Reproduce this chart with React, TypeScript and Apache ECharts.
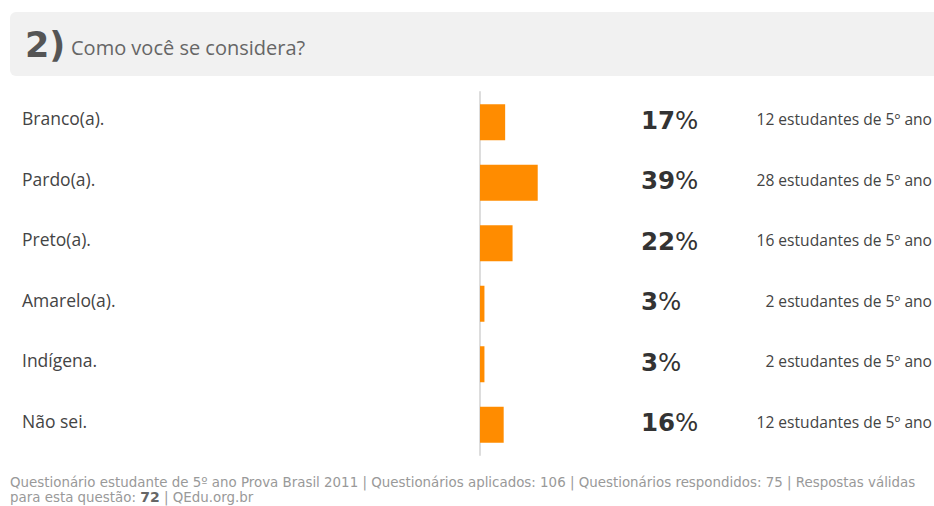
import React, { useEffect, useRef } from "react";
import * as echarts from "echarts";

const categories = ["Branco(a).", "Pardo(a).", "Preto(a).", "Amarelo(a).", "Indígena.", "Não sei."];
const percents = [17, 39, 22, 3, 3, 16];
const counts = [12, 28, 16, 2, 2, 12];
const questionNumber = "2)";
const questionText = "Como você se considera?";
const footerLine1 = "Questionário estudante de 5º ano Prova Brasil 2011 | Questionários aplicados: 106 | Questionários respondidos: 75 | Respostas válidas";
const footerPre = "para esta questão: ";
const footerValid = "72";
const footerPost = " | QEdu.org.br";

export default function App() {
  const ref = useRef<HTMLDivElement>(null);
  useEffect(() => {
    if (!ref.current) return;
    const chart = echarts.init(ref.current, undefined, { renderer: "svg" });
    chart.setOption({
      animation: false,
      backgroundColor: "#ffffff",
      grid: { left: 480, top: 92, width: 148, height: 363, containLabel: false },
      xAxis: { type: "value", min: 0, max: 100, show: false },
      yAxis: {
        type: "category",
        data: categories,
        inverse: true,
        offset: 3,
        axisLine: { show: true, lineStyle: { color: "#dddddd", width: 2 } },
        axisTick: { show: false },
        axisLabel: {
          align: "left",
          verticalAlign: "bottom",
          lineHeight: 8,
          margin: 455,
          fontFamily: "Open Sans",
          fontSize: 17.5,
          color: "#444444",
        },
        splitLine: { show: false },
      },
      series: [
        {
          type: "bar",
          data: percents,
          barWidth: 36,
          itemStyle: { color: "#ff8c00" },
          label: {
            show: true,
            position: [161, 16],
            verticalAlign: "middle",
            formatter: (p: any) => `{n|${p.value}}{s|%}`,
            rich: {
              n: { fontFamily: "DejaVu Sans", fontWeight: "bold", fontSize: 24.5, color: "#333333" },
              s: { fontFamily: "DejaVu Sans", fontWeight: "normal", fontSize: 24.5, color: "#333333" },
            },
          },
        },
        {
          type: "bar",
          data: percents.map(() => 100),
          barWidth: 36,
          barGap: "-100%",
          itemStyle: { color: "rgba(0,0,0,0)" },
          silent: true,
          z: 1,
          label: {
            show: true,
            position: [452, 15],
            align: "right",
            verticalAlign: "middle",
            formatter: (p: any) => `${counts[p.dataIndex]} estudantes de 5º ano`,
            fontFamily: "Open Sans",
            fontSize: 15.6,
            color: "#444444",
          },
        },
      ],
      graphic: [
        {
          type: "rect",
          shape: { x: 10, y: 12, width: 940, height: 64, r: 6 },
          style: { fill: "#f1f1f1" },
          z: -1,
        },
        {
          type: "text",
          x: 25,
          y: 45,
          style: {
            text: questionNumber,
            fontFamily: "DejaVu Sans",
            fontWeight: "bold",
            fontSize: 35,
            fill: "#555555",
            verticalAlign: "middle",
          },
        },
        {
          type: "text",
          x: 71,
          y: 47,
          style: {
            text: questionText,
            fontFamily: "Open Sans",
            fontSize: 20,
            fill: "#666666",
            verticalAlign: "middle",
          },
        },
        {
          type: "text",
          x: 10,
          y: 482,
          style: {
            text: footerLine1,
            fontFamily: "DejaVu Sans",
            fontSize: 13.4,
            fill: "#999999",
            verticalAlign: "middle",
          },
        },
        {
          type: "text",
          x: 10,
          y: 497,
          style: {
            text: `{a|${footerPre}}{b|${footerValid}}{a|${footerPost}}`,
            verticalAlign: "middle",
            rich: {
              a: { fontFamily: "DejaVu Sans", fontSize: 13.4, fill: "#999999" },
              b: { fontFamily: "DejaVu Sans", fontSize: 14, fontWeight: "bold", fill: "#666666" },
            },
          },
        },
      ],
    });
    return () => chart.dispose();
  }, []);
  return (
    <div
      ref={ref}
      style={{ position: "fixed", left: 0, top: 0, width: 934, height: 506 }}
    />
  );
}
